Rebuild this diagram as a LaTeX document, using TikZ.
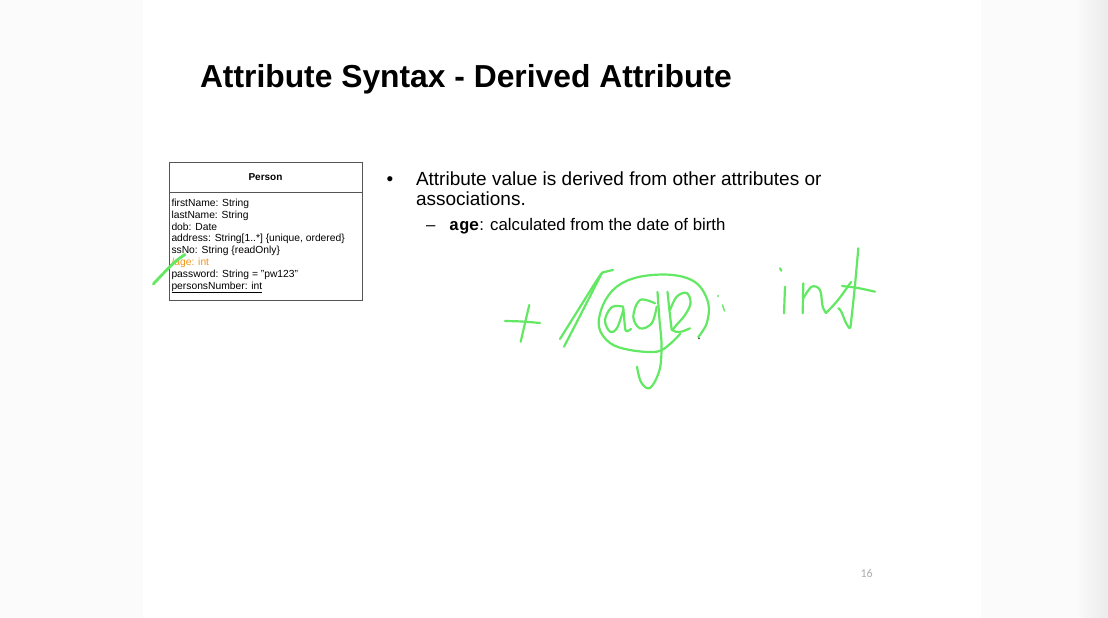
\documentclass[tikz,border=0pt]{standalone}
\usepackage{fontspec}
\setmainfont{Liberation Sans}
\newfontfamily\codefont{Liberation Mono}
\newfontfamily\pagefont{Carlito}

\definecolor{ink}{RGB}{98,232,98}
\definecolor{attrorange}{RGB}{242,150,20}
\definecolor{boxline}{RGB}{85,85,85}
\definecolor{pagegrey}{RGB}{175,175,175}

\begin{document}
\begin{tikzpicture}[x=1pt,y=-1pt,
  every node/.style={inner sep=0pt,outer sep=0pt},
  compartment/.style={draw=boxline,line width=0.8pt,minimum width=193pt,anchor=north west},
  attr/.style={anchor=base west,font=\fontsize{10.3}{12}\selectfont},
  bodytext/.style={anchor=base west,font=\fontsize{19}{22}\selectfont},
  subtext/.style={anchor=base west,font=\fontsize{16.8}{20}\selectfont},
  pen/.style={draw=ink,line width=2.2pt,line cap=round,line join=round}]
\useasboundingbox (0,0) rectangle (1108,618);

% page background
\fill[black!1.5] (0,0) rectangle (1108,618);
\fill[white] (143,0) rectangle (981,618);
\shade[left color=black!1.5,right color=black!8] (1075,0) rectangle (1108,618);

% title
\node[anchor=base west,font=\fontsize{31.8}{36}\selectfont\bfseries] (title) at (200,87)
  {Attribute Syntax - Derived Attribute};

% class box
\node[compartment,minimum height=30pt] (hdr) at (169,162) {};
\node[compartment,minimum height=108pt] (body) at (hdr.south west) {};
\node[anchor=base,font=\fontsize{10}{12}\selectfont\bfseries] (cname) at (265.5,180.5) {Person};
\node[attr] (a1) at (171.5,206.5) {firstName: String};
\node[attr] (a2) at (171.5,218.3) {lastName: String};
\node[attr] (a3) at (171.5,230.1) {dob: Date};
\node[attr] (a4) at (171.5,241.9) {address: String[1..*] \{unique, ordered\}};
\node[attr] (a5) at (171.5,253.7) {ssNo: String \{readOnly\}};
\node[attr,text=attrorange] (a6) at (171.5,265.5) {/age: int};
\node[attr] (a7) at (171.5,277.3) {password: String = "pw123"};
\node[attr] (a8) at (171.5,289.1) {\underline{personsNumber: int}};

% bullet text
\node[bodytext] (b1) at (386.5,185.5) {\textbullet};
\node[bodytext] (t1) at (416,185.5) {Attribute value is derived from other attributes or};
\node[bodytext] (t2) at (416,205) {associations.};
\node[subtext] (d1) at (426,230) {--};
\node[subtext] (t3) at (449,230) {{\codefont\bfseries age}: calculated from the date of birth};

% page number
\node[anchor=base west,font=\pagefont\fontsize{12}{14}\selectfont,text=pagegrey] (pg) at (860.5,577) {16};

% handwritten marks
\draw[pen,line width=2.8pt] plot[smooth,tension=0.6] coordinates {(153.3,284) (165,271.7) (176,261) (185,254.5)};
% plus sign
\draw[pen] plot[smooth] coordinates {(505,321) (522,321.5) (540,323)};
\draw[pen] plot[smooth] coordinates {(529.3,305) (525,323) (520.7,341.7)};
% slash pair
\draw[pen] plot[smooth,tension=0.5] coordinates {(560,339) (580,307) (600,275.5) (605,272) (613,270)};
\draw[pen] plot[smooth,tension=0.5] coordinates {(601.7,273.3) (583,310) (564,346.7)};
% loop around the name
\draw[pen] plot[smooth,tension=0.6] coordinates {(680,334) (670,344) (656.7,351.7) (630,350) (610,343) (599,327) (603,305) (616.7,286.7) (640,276.7) (673,275) (696.7,283.3) (708.3,303.3) (706.7,323.3) (698.3,337)};
% a
\draw[pen] plot[smooth,tension=0.6] coordinates {(623.3,306.7) (612,307) (605,320) (610,331.7) (617,328) (623.3,310)};
\draw[pen] plot[smooth,tension=0.6] coordinates {(623.3,308) (624.5,322) (626,331) (631,329)};
% g
\draw[pen] plot[smooth,tension=0.6] coordinates {(655,303.3) (640,300) (633.3,316.7) (640,328.3) (651.7,323.3) (656.7,306.7)};
\draw[pen] plot[smooth,tension=0.6] coordinates {(657.5,292) (659.5,320) (661.5,345) (659.5,370) (650,388) (641,382) (637,366.7)};
% e
\draw[pen] plot[smooth] coordinates {(667.5,291.7) (669.5,311) (671.7,330)};
\draw[pen] plot[smooth,tension=0.6] coordinates {(670,310) (676.7,296.7) (686.7,293) (690.5,303) (685,315) (675,326.7) (673,330.5) (680,332) (690,328.3)};
% colon
\fill[ink] (718,296) circle (1.1pt);
\draw[pen,line width=1.4pt] (722.5,305) -- (724.5,311);
\fill[black!70] (699,338.3) circle (1pt);
% i
\draw[pen] (785,286.7) -- (784,313.3);
\draw[pen] (780,268.3) -- (781.3,270.7);
% n
\draw[pen] plot[smooth] coordinates {(803.3,283.3) (803,298) (802.7,313.3)};
\draw[pen] plot[smooth,tension=0.6] coordinates {(803.3,298.3) (811.7,286.7) (820,290) (822.5,306) (826,313)};
% t
\draw[pen] plot[smooth,tension=0.6] coordinates {(826,313) (838,300) (851,282)};
\draw[pen] plot[smooth,tension=0.5] coordinates {(858.3,248.3) (855,285) (851.5,318) (850,328) (846,323) (841,311) (838.3,308.3)};
\draw[pen] plot[smooth] coordinates {(842,286) (858,288) (875,291.7)};
\end{tikzpicture}
\end{document}
